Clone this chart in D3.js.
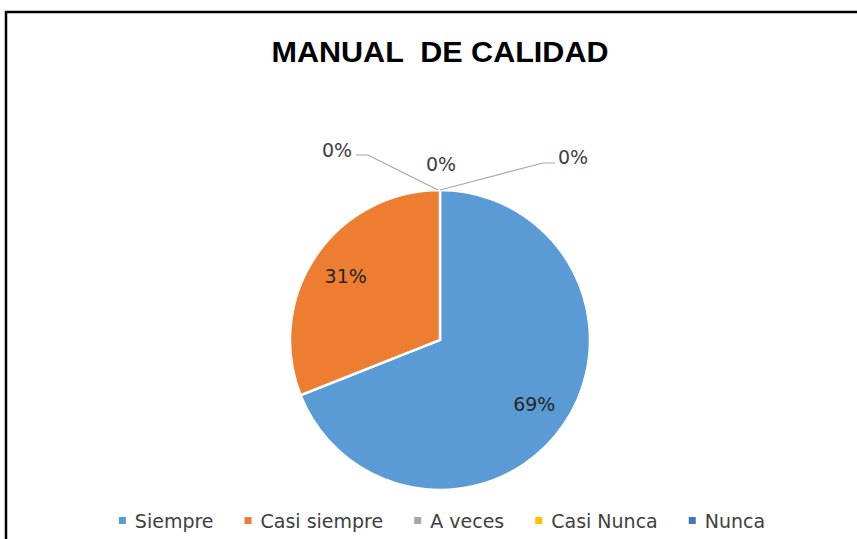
<!DOCTYPE html>
<html><head><meta charset="utf-8">
<script src="https://cdn.jsdelivr.net/npm/d3@7"></script>
<style>body{margin:0;background:#fff}svg{display:block}</style>
</head><body>
<svg id="c" width="857" height="539"></svg>
<script>
const title = "MANUAL  DE CALIDAD";
const categories = ["Siempre", "Casi siempre", "A veces", "Casi Nunca", "Nunca"];
const values = [69, 31, 0, 0, 0];
const colors = ["#5B9BD5", "#ED7D31", "#A5A5A5", "#FFC000", "#4472C4"];

const W = 857, H = 539;
const svg = d3.select("#c");
const cx = 440, cy = 340, R = 150;

svg.append("rect").attr("width", W).attr("height", H).attr("fill", "#fff");
svg.append("rect").attr("x", 6).attr("y", 12).attr("width", 1000).attr("height", 1000)
  .attr("fill", "none").attr("stroke", "#000").attr("stroke-width", 2.5);

svg.append("text").attr("x", cx).attr("y", 62).attr("text-anchor", "middle")
  .style("white-space", "pre")
  .attr("font-family", "Liberation Sans, Arial, sans-serif").attr("font-weight", "bold")
  .attr("font-size", 29).attr("textLength", 337).attr("lengthAdjust", "spacingAndGlyphs")
  .attr("fill", "#000").text(title);

const data = categories.map((c, i) => ({cat: c, v: values[i], color: colors[i]}));
const pie = d3.pie().sort(null).value(d => d.v);
const arcs = pie(data);
const arc = d3.arc().innerRadius(0).outerRadius(R);
const labelArc = d3.arc().innerRadius(R * 0.76).outerRadius(R * 0.76);
const total = d3.sum(values);
const fmt = v => Math.round(v / total * 100) + "%";

const g = svg.append("g").attr("transform", `translate(${cx},${cy})`);
g.selectAll("path").data(arcs.filter(a => a.data.v > 0)).join("path")
  .attr("d", arc).attr("fill", d => d.data.color)
  .attr("stroke", "#fff").attr("stroke-width", 2.5).attr("stroke-linejoin", "miter");

const font = "DejaVu Sans, sans-serif";
g.selectAll("text.in").data(arcs.filter(a => a.data.v > 0)).join("text")
  .attr("class", "in")
  .attr("transform", d => `translate(${labelArc.centroid(d)})`)
  .attr("text-anchor", "middle").attr("dy", "0.36em")
  .attr("font-family", font).attr("font-size", 19).attr("fill", "#262626")
  .text(d => fmt(d.data.v));

// zero slices: labels outside, near top of pie (offsets relative to pie centre)
const zeroArcs = arcs.filter(a => a.data.v === 0);
const zeroOffsets = [[-103, -190], [1, -176], [133, -183]];
const edge = a => { const ang = a.startAngle; return [Math.sin(ang) * R, -Math.cos(ang) * R]; };
zeroArcs.forEach((a, i) => {
  const p = edge(a);
  const [lx, ly] = zeroOffsets[i];
  g.append("text").attr("x", lx).attr("y", ly).attr("dy", "0.36em").attr("text-anchor", "middle")
    .attr("font-family", font).attr("font-size", 19).attr("fill", "#404040").text(fmt(a.data.v));
  if (i === 0) {
    g.append("polyline").attr("points", [[lx + 19, ly + 5], [lx + 31, ly + 5], [p[0] - 2, p[1]]].join(" "))
      .attr("fill", "none").attr("stroke", "#A6A6A6").attr("stroke-width", 1.2);
  } else if (i === 2) {
    g.append("polyline").attr("points", [[p[0], p[1]], [lx - 30, ly + 6], [lx - 18, ly + 6]].join(" "))
      .attr("fill", "none").attr("stroke", "#A6A6A6").attr("stroke-width", 1.2);
  }
});

// legend
const leg = svg.append("g");
let x = 0;
data.forEach(d => {
  const it = leg.append("g").attr("transform", `translate(${x},0)`);
  it.append("rect").attr("x", 0).attr("y", -4).attr("width", 7).attr("height", 7).attr("fill", d.color);
  const t = it.append("text").attr("x", 16).attr("y", 0).attr("dy", "0.36em")
    .attr("font-family", font).attr("font-size", 19).attr("fill", "#404040").text(d.cat);
  const w = t.node().getComputedTextLength();
  x += 16 + w + 31;
});
const legW = x - 31;
leg.attr("transform", `translate(${442 - legW / 2},521)`);
</script>
</body></html>
